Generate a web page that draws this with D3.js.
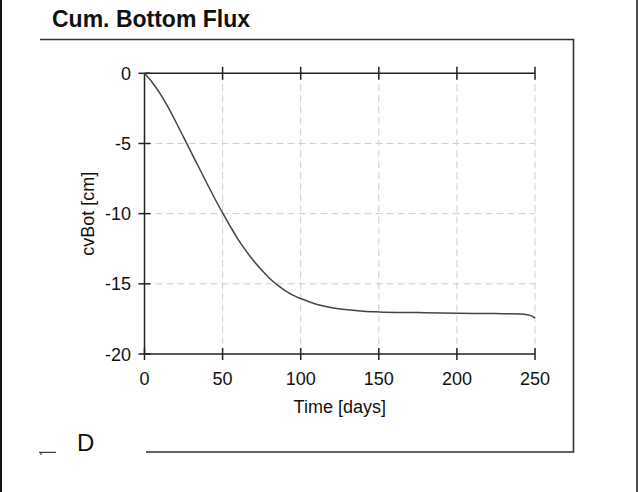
<!DOCTYPE html>
<html>
<head>
<meta charset="utf-8">
<script src="https://cdn.jsdelivr.net/npm/d3@7"></script>
<style>
  body { margin: 0; background: #fff; }
  text { font-family: "Liberation Sans", Arial, sans-serif; fill: #111; }
</style>
</head>
<body>
<svg width="638" height="492"></svg>
<script>
var days  = [0, 5, 10, 15, 20, 25, 30, 35, 40, 45, 50, 55, 60, 65, 70, 75, 80, 85, 90, 95, 100, 110, 120, 130, 140, 150, 175, 200, 225, 240, 245, 248, 250];
var cvBot = [0, -0.65, -1.45, -2.4, -3.45, -4.55, -5.65, -6.75, -7.85, -8.92, -9.95, -10.92, -11.85, -12.65, -13.38, -14.02, -14.6, -15.08, -15.48, -15.8, -16.05, -16.45, -16.7, -16.85, -16.95, -17.0, -17.05, -17.1, -17.12, -17.15, -17.2, -17.3, -17.45];
var xTicks = [0, 50, 100, 150, 200, 250];
var yTicks = [0, -5, -10, -15, -20];

var svg = d3.select("svg");

var x = d3.scaleLinear().domain([0, 250]).range([144.5, 535]);
var y = d3.scaleLinear().domain([-20, 0]).range([354, 73.3]);

// outer frame bits
svg.append("line").attr("x1", 1).attr("x2", 1).attr("y1", 0).attr("y2", 492)
	.attr("stroke", "#111").attr("stroke-width", 2);
svg.append("line").attr("x1", 637).attr("x2", 637).attr("y1", 0).attr("y2", 492)
	.attr("stroke", "#111").attr("stroke-width", 1.5);
svg.append("path")
	.attr("d", "M40,39.5H573.5V452H146")
	.attr("fill", "none").attr("stroke", "#333").attr("stroke-width", 1.6);
svg.append("path")
	.attr("d", "M39,452.3H56M41,452V455")
	.attr("fill", "none").attr("stroke", "#444").attr("stroke-width", 1.2);

svg.append("text").attr("x", 52).attr("y", 27)
	.style("font-size", "23px").style("font-weight", "bold")
	.text("Cum. Bottom Flux");

svg.append("text").attr("x", 77).attr("y", 451)
	.style("font-size", "24px")
	.text("D");

// grid
var grid = svg.append("g").attr("stroke", "#cfcfcf").attr("stroke-dasharray", "7,4").attr("stroke-width", 1);
grid.selectAll(".vx").data(xTicks.slice(1)).enter().append("line")
	.attr("x1", d => x(d)).attr("x2", d => x(d))
	.attr("y1", y(0)).attr("y2", y(-20));
grid.selectAll(".hy").data(yTicks.slice(1, 4)).enter().append("line")
	.attr("x1", x(0)).attr("x2", x(250))
	.attr("y1", d => y(d)).attr("y2", d => y(d));

// axes
var ax = svg.append("g").attr("stroke", "#222").attr("stroke-width", 1.5);
ax.append("line").attr("x1", x(0)).attr("x2", x(250)).attr("y1", y(-20)).attr("y2", y(-20));
ax.append("line").attr("x1", x(0)).attr("x2", x(250)).attr("y1", y(0)).attr("y2", y(0));
ax.append("line").attr("x1", x(0)).attr("x2", x(0)).attr("y1", y(0)).attr("y2", y(-20));
ax.selectAll(".xb").data(xTicks).enter().append("line")
	.attr("x1", d => x(d)).attr("x2", d => x(d))
	.attr("y1", y(-20) - 6).attr("y2", y(-20) + 6);
ax.selectAll(".xt").data(xTicks.slice(1)).enter().append("line")
	.attr("x1", d => x(d)).attr("x2", d => x(d))
	.attr("y1", y(0) - 6.5).attr("y2", y(0) + 6.5);
ax.selectAll(".yl").data(yTicks).enter().append("line")
	.attr("x1", x(0) - 6).attr("x2", x(0) + 6)
	.attr("y1", d => y(d)).attr("y2", d => y(d));

svg.selectAll(".xlab").data(xTicks).enter().append("text")
	.attr("x", d => x(d)).attr("y", y(-20) + 31)
	.attr("text-anchor", "middle").style("font-size", "18px")
	.text(d => d);
svg.selectAll(".ylab").data(yTicks).enter().append("text")
	.attr("x", 131).attr("y", d => y(d) + 6.5)
	.attr("text-anchor", "end").style("font-size", "18px")
	.text(d => d);

svg.append("text").attr("x", (x(0) + x(250)) / 2).attr("y", 413)
	.attr("text-anchor", "middle").style("font-size", "18px")
	.text("Time [days]");
svg.append("text")
	.attr("transform", "translate(94," + ((y(0) + y(-20)) / 2) + ") rotate(-90)")
	.attr("text-anchor", "middle").style("font-size", "18px")
	.text("cvBot [cm]");

// curve
var line = d3.line()
	.x((d, i) => x(days[i]))
	.y(d => y(d))
	.curve(d3.curveMonotoneX);
svg.append("path").datum(cvBot)
	.attr("d", line)
	.attr("fill", "none").attr("stroke", "#444").attr("stroke-width", 1.5);
</script>
</body>
</html>
